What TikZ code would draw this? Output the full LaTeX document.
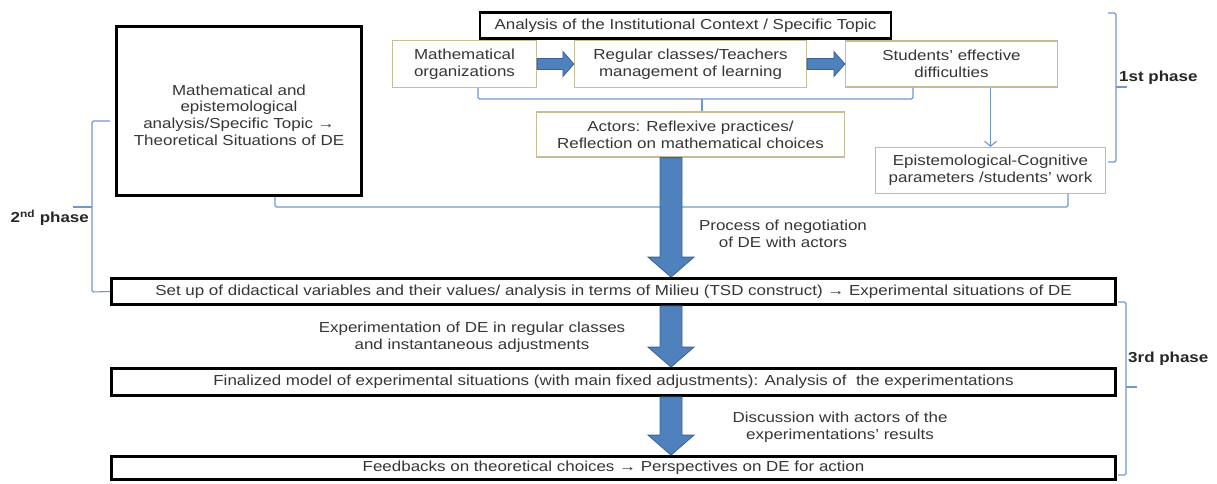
\documentclass[tikz,border=0pt]{standalone}
\usepackage{fontspec}
\setmainfont[FakeStretch=1.17]{Liberation Sans}
\usetikzlibrary{calc,arrows.meta}
\definecolor{boxtan}{HTML}{C4BD97}
\definecolor{txt}{HTML}{363636}
\definecolor{brk}{HTML}{6F98CF}
\definecolor{afill}{HTML}{4F81BD}
\definecolor{aline}{HTML}{3A6399}
\newcommand\dnarrow[2]{\path[blockarr] ($(#1)+(-11,0)$) -- ($(#2)+(-11,-20)$) -- ($(#2)+(-23,-20)$) -- (#2) -- ($(#2)+(23,-20)$) -- ($(#2)+(11,-20)$) -- ($(#1)+(11,0)$) -- cycle;}
\newcommand\rtarrow[2]{\path[blockarr] ($(#1)+(0,-5.5)$) -- ($(#2)+(-11,-5.5)$) -- ($(#2)+(-11,-12.5)$) -- (#2) -- ($(#2)+(-11,12.5)$) -- ($(#2)+(-11,5.5)$) -- ($(#1)+(0,5.5)$) -- cycle;}
\tikzset{
  base/.style={font=\fontsize{14.5}{16.7}\selectfont, text=txt, align=center, inner sep=0pt},
  thinbox/.style={base, draw=boxtan, line width=1.2pt, fill=white},
  thickbox/.style={base, draw=black, line width=2.8pt, fill=white},
  lbl/.style={base},
  phase/.style={base, font=\fontsize{14.5}{16.7}\selectfont\bfseries, text=black!85},
  brace/.style={draw=brk, line width=1.1pt, rounded corners=1.5pt},
  blockarr/.style={fill=afill, draw=aline, line width=0.8pt},
}
\begin{document}
\begin{tikzpicture}[x=1pt,y=-1pt]
\useasboundingbox (0,0) rectangle (1217,483);
% top boxes
\node[thickbox, minimum width=411pt, minimum height=26pt] (analysis) at (685.5,25.5) {Analysis of the Institutional Context / Specific Topic};
\node[thinbox, minimum width=144pt, minimum height=47pt] (morg) at (464.5,64) {Mathematical\\organizations};
\node[thinbox, minimum width=232pt, minimum height=47pt] (reg) at (690.5,64) {Regular classes/Teachers\\management of learning};
\node[thinbox, minimum width=212pt, minimum height=46pt] (stud) at (951.5,64) {Students’ effective\\difficulties};
\node[thinbox, minimum width=308pt, minimum height=45pt] (actors) at (690.5,134.5) {Actors: Reflexive practices/\\Reflection on mathematical choices};
\node[thinbox, minimum width=230pt, minimum height=46pt] (epist) at (990.5,170.5) {Epistemological-Cognitive\\parameters /students’ work};
\node[thickbox, minimum width=245pt, minimum height=169pt] (math) at (239,111) {};
\node[lbl] (mathtxt) at (239,115) {Mathematical and\\epistemological\\analysis/Specific Topic →\\Theoretical Situations of DE};
% lower boxes
\node[thickbox, minimum width=1004pt, minimum height=26pt] (setup) at (613.5,291.5) {Set up of didactical variables and their values/ analysis in terms of Milieu (TSD construct) → Experimental situations of DE};
\node[thickbox, minimum width=1004pt, minimum height=27pt] (final) at (613.5,382) {Finalized model of experimental situations (with main fixed adjustments): Analysis of \ the experimentations};
\node[thickbox, minimum width=1004pt, minimum height=23pt] (feed) at (613.5,468) {Feedbacks on theoretical choices → Perspectives on DE for action};
% horizontal block arrows
\rtarrow{morg.east}{reg.west}
\rtarrow{reg.east}{stud.west}
% braces
\draw[brace] (478,0 |- morg.south) -- (478,99) -- (913,99) -- (913,0 |- stud.south);
\draw[brace] (702,99) -- (702,0 |- actors.north);
\draw[brace] (275,0 |- math.south) -- (275,207) -- (1068,207) -- (1068,0 |- epist.south);
\draw[draw=brk, line width=1.1pt, -{Straight Barb[length=5pt,width=12pt]}] (epist.north |- stud.south) -- (epist.north);
% vertical block arrows
\coordinate (a1s) at (671,0 |- actors.south);
\coordinate (a1e) at (671,0 |- setup.north);
\coordinate (a2s) at (671,0 |- setup.south);
\coordinate (a2e) at (671,0 |- final.north);
\coordinate (a3s) at (671,0 |- final.south);
\coordinate (a3e) at (671,0 |- feed.north);
\dnarrow{a1s}{a1e}
\dnarrow{a2s}{a2e}
\dnarrow{a3s}{a3e}
% phase braces
\draw[brace] (1108,13) -- (1116,13) -- (1116,162) -- (1108,162);
\draw[brace] (1116,87) -- (1127,87);
\draw[brace] (110,121) -- (92,121) -- (92,292) -- (setup.west);
\draw[brace] (92,207) -- (73,207);
\draw[brace] (1118,302) -- (1126,302) -- (1126,475) -- (1118,475);
\draw[brace] (1126,387) -- (1137,387);
% labels
\node[phase, anchor=west] (p1) at (1119,78) {1st phase};
\node[phase, anchor=east] (p2) at (89,218) {2\textsuperscript{nd} phase};
\node[phase, anchor=west] (p3) at (1128,359) {3rd phase};
\node[lbl] (neg) at (783,234) {Process of negotiation\\of DE with actors};
\node[lbl] (exp) at (472,337) {Experimentation of DE in regular classes\\and instantaneous adjustments};
\node[lbl] (disc) at (840,427) {Discussion with actors of the\\experimentations’ results};
\end{tikzpicture}
\end{document}
